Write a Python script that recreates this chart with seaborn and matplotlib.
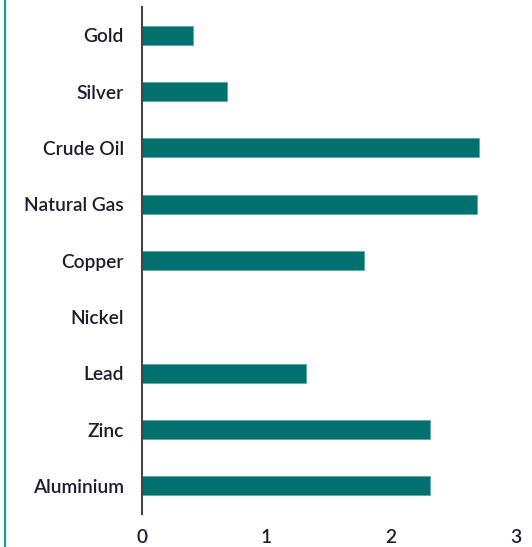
import matplotlib
matplotlib.use("Agg")
import matplotlib.pyplot as plt
import seaborn as sns
import pandas as pd
from matplotlib.lines import Line2D

categories = ["Gold", "Silver", "Crude Oil", "Natural Gas", "Copper", "Nickel", "Lead", "Zinc", "Aluminium"]
values = [0.41, 0.68, 2.71, 2.69, 1.78, 0.0, 1.32, 2.31, 2.31]
xticks = [0, 1, 2, 3]

sns.set_theme(style="white")
plt.rcParams['font.family'] = ['Lato', 'DejaVu Sans']

df = pd.DataFrame({"category": categories, "value": values})

fig = plt.figure(figsize=(5.32, 5.47), dpi=100)
ax = fig.add_axes([0.267, 0.0603, 0.969 - 0.267, 0.987 - 0.0603])
sns.barplot(data=df, x="value", y="category", order=categories, orient="h",
            color="#00716e", saturation=1, width=0.34, ax=ax,
            edgecolor="#5fa8a5", linewidth=0.6)
ax.set_xlim(0, 3)
ax.set_ylim(8.5, -0.5)
ax.set_xticks(xticks)
ax.set_xticklabels([str(t) for t in xticks])
ax.set_xlabel("")
ax.set_ylabel("")
for s in ["top", "right", "bottom"]:
    ax.spines[s].set_visible(False)
ax.spines["left"].set_color("#444444")
ax.spines["left"].set_linewidth(1.5)
ax.tick_params(axis="both", length=0, labelsize=13.8, labelcolor="#1e1e30")
ax.tick_params(axis="y", pad=13)
ax.tick_params(axis="x", pad=11)
for lab in ax.get_yticklabels() + ax.get_xticklabels():
    lab.set_fontweight("semibold")

fig.add_artist(Line2D([4.5/532, 4.5/532], [0, 1], color="#1d9a98", linewidth=1.6,
                      transform=fig.transFigure))

fig.savefig("out.png", dpi=100)
